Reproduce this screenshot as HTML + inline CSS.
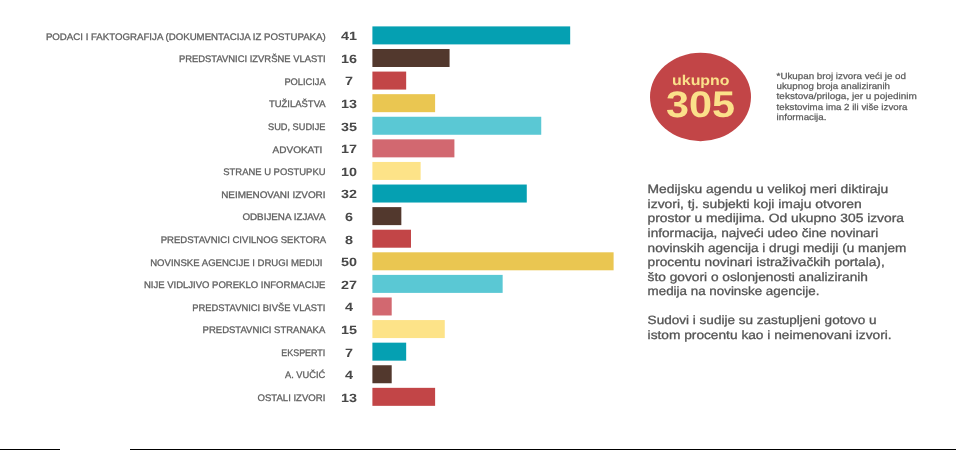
<!DOCTYPE html>
<html><head><meta charset="utf-8"><style>
html,body{margin:0;padding:0;background:#fff;width:956px;height:450px;overflow:hidden}
svg{display:block;filter:blur(0.35px)}
text{font-family:"Liberation Sans",sans-serif;text-rendering:geometricPrecision}
.l{font-size:9.5px;fill:#606060;stroke:#606060;stroke-width:0.3px}
.n{font-size:12.0px;font-weight:bold;fill:#484848}
.s{font-size:8.8px;fill:#5c5c5c;stroke:#5c5c5c;stroke-width:0.25px}
.p{font-size:12px;fill:#555;stroke:#555;stroke-width:0.3px}
</style></head><body>
<svg width="956" height="450" viewBox="0 0 956 450">
<rect x="0" y="0" width="956" height="450" fill="#fff"/>
<rect x="372.40" y="26.40" width="197.78" height="18.0" fill="#05a0b2"/>
<text class="l" x="45.90" y="39.60" textLength="279.80" lengthAdjust="spacingAndGlyphs">PODACI I FAKTOGRAFIJA (DOKUMENTACIJA IZ POSTUPAKA)</text>
<text class="n" x="349.0" y="40.30" text-anchor="middle" textLength="16.01" lengthAdjust="spacingAndGlyphs">41</text>
<rect x="372.40" y="48.99" width="77.18" height="18.0" fill="#52382d"/>
<text class="l" x="178.90" y="62.19" textLength="146.70" lengthAdjust="spacingAndGlyphs">PREDSTAVNICI IZVRŠNE VLASTI</text>
<text class="n" x="349.0" y="62.89" text-anchor="middle" textLength="16.01" lengthAdjust="spacingAndGlyphs">16</text>
<rect x="372.40" y="71.58" width="33.77" height="18.0" fill="#c24547"/>
<text class="l" x="284.40" y="84.78" textLength="41.20" lengthAdjust="spacingAndGlyphs">POLICIJA</text>
<text class="n" x="349.0" y="85.48" text-anchor="middle" textLength="8.01" lengthAdjust="spacingAndGlyphs">7</text>
<rect x="372.40" y="94.17" width="62.71" height="18.0" fill="#eac651"/>
<text class="l" x="268.90" y="107.37" textLength="56.70" lengthAdjust="spacingAndGlyphs">TUŽILAŠTVA</text>
<text class="n" x="349.0" y="108.07" text-anchor="middle" textLength="16.01" lengthAdjust="spacingAndGlyphs">13</text>
<rect x="372.40" y="116.76" width="168.84" height="18.0" fill="#5ac8d4"/>
<text class="l" x="268.00" y="129.96" textLength="57.40" lengthAdjust="spacingAndGlyphs">SUD, SUDIJE</text>
<text class="n" x="349.0" y="130.66" text-anchor="middle" textLength="16.01" lengthAdjust="spacingAndGlyphs">35</text>
<rect x="372.40" y="139.35" width="82.01" height="18.0" fill="#d26870"/>
<text class="l" x="272.60" y="152.55" textLength="49.80" lengthAdjust="spacingAndGlyphs">ADVOKATI</text>
<text class="n" x="349.0" y="153.25" text-anchor="middle" textLength="16.01" lengthAdjust="spacingAndGlyphs">17</text>
<rect x="372.40" y="161.94" width="48.24" height="18.0" fill="#fde388"/>
<text class="l" x="223.30" y="175.14" textLength="102.20" lengthAdjust="spacingAndGlyphs">STRANE U POSTUPKU</text>
<text class="n" x="349.0" y="175.84" text-anchor="middle" textLength="16.01" lengthAdjust="spacingAndGlyphs">10</text>
<rect x="372.40" y="184.53" width="154.37" height="18.0" fill="#05a0b2"/>
<text class="l" x="221.20" y="197.73" textLength="104.30" lengthAdjust="spacingAndGlyphs">NEIMENOVANI IZVORI</text>
<text class="n" x="349.0" y="198.43" text-anchor="middle" textLength="16.01" lengthAdjust="spacingAndGlyphs">32</text>
<rect x="372.40" y="207.12" width="28.94" height="18.0" fill="#52382d"/>
<text class="l" x="242.40" y="220.32" textLength="83.10" lengthAdjust="spacingAndGlyphs">ODBIJENA IZJAVA</text>
<text class="n" x="349.0" y="221.02" text-anchor="middle" textLength="8.01" lengthAdjust="spacingAndGlyphs">6</text>
<rect x="372.40" y="229.71" width="38.59" height="18.0" fill="#c24547"/>
<text class="l" x="160.70" y="242.91" textLength="165.50" lengthAdjust="spacingAndGlyphs">PREDSTAVNICI CIVILNOG SEKTORA</text>
<text class="n" x="349.0" y="243.61" text-anchor="middle" textLength="8.01" lengthAdjust="spacingAndGlyphs">8</text>
<rect x="372.40" y="252.30" width="241.20" height="18.0" fill="#eac651"/>
<text class="l" x="150.20" y="265.50" textLength="172.20" lengthAdjust="spacingAndGlyphs">NOVINSKE AGENCIJE I DRUGI MEDIJI</text>
<text class="n" x="349.0" y="266.20" text-anchor="middle" textLength="16.01" lengthAdjust="spacingAndGlyphs">50</text>
<rect x="372.40" y="274.89" width="130.25" height="18.0" fill="#5ac8d4"/>
<text class="l" x="143.90" y="288.09" textLength="181.40" lengthAdjust="spacingAndGlyphs">NIJE VIDLJIVO POREKLO INFORMACIJE</text>
<text class="n" x="349.0" y="288.79" text-anchor="middle" textLength="16.01" lengthAdjust="spacingAndGlyphs">27</text>
<rect x="372.40" y="297.48" width="19.30" height="18.0" fill="#d26870"/>
<text class="l" x="192.30" y="310.68" textLength="133.00" lengthAdjust="spacingAndGlyphs">PREDSTAVNICI BIVŠE VLASTI</text>
<text class="n" x="349.0" y="311.38" text-anchor="middle" textLength="8.01" lengthAdjust="spacingAndGlyphs">4</text>
<rect x="372.40" y="320.07" width="72.36" height="18.0" fill="#fde388"/>
<text class="l" x="202.60" y="333.27" textLength="122.70" lengthAdjust="spacingAndGlyphs">PREDSTAVNICI STRANAKA</text>
<text class="n" x="349.0" y="333.97" text-anchor="middle" textLength="16.01" lengthAdjust="spacingAndGlyphs">15</text>
<rect x="372.40" y="342.66" width="33.77" height="18.0" fill="#05a0b2"/>
<text class="l" x="281.30" y="355.86" textLength="44.00" lengthAdjust="spacingAndGlyphs">EKSPERTI</text>
<text class="n" x="349.0" y="356.56" text-anchor="middle" textLength="8.01" lengthAdjust="spacingAndGlyphs">7</text>
<rect x="372.40" y="365.25" width="19.30" height="18.0" fill="#52382d"/>
<text class="l" x="285.00" y="378.45" textLength="40.30" lengthAdjust="spacingAndGlyphs">A. VUČIĆ</text>
<text class="n" x="349.0" y="379.15" text-anchor="middle" textLength="8.01" lengthAdjust="spacingAndGlyphs">4</text>
<rect x="372.40" y="387.84" width="62.71" height="18.0" fill="#c24547"/>
<text class="l" x="257.50" y="401.04" textLength="67.80" lengthAdjust="spacingAndGlyphs">OSTALI IZVORI</text>
<text class="n" x="349.0" y="401.74" text-anchor="middle" textLength="16.01" lengthAdjust="spacingAndGlyphs">13</text>
<ellipse cx="700.5" cy="97" rx="50.5" ry="44.2" fill="#c24547"/>
<text x="700.8" y="84.6" text-anchor="middle" textLength="57.5" lengthAdjust="spacingAndGlyphs" style="font-size:14px;font-weight:bold;fill:#fbe08a">ukupno</text>
<text x="700.5" y="116.7" text-anchor="middle" textLength="69" lengthAdjust="spacingAndGlyphs" style="font-size:37px;font-weight:bold;fill:#fbe08a">305</text>
<text class="s" x="776.6" y="78.70" textLength="129.40" lengthAdjust="spacingAndGlyphs">*Ukupan broj izvora veći je od</text>
<text class="s" x="776.6" y="89.06" textLength="113.40" lengthAdjust="spacingAndGlyphs">ukupnog broja analiziranih</text>
<text class="s" x="776.6" y="99.42" textLength="140.20" lengthAdjust="spacingAndGlyphs">tekstova/priloga, jer u pojedinim</text>
<text class="s" x="776.6" y="109.78" textLength="130.70" lengthAdjust="spacingAndGlyphs">tekstovima ima 2 ili više izvora</text>
<text class="s" x="776.6" y="120.14" textLength="49.80" lengthAdjust="spacingAndGlyphs">informacija.</text>
<text class="p" x="647.6" y="193.30" textLength="240.70" lengthAdjust="spacingAndGlyphs">Medijsku agendu u velikoj meri diktiraju</text>
<text class="p" x="647.6" y="207.86" textLength="214.10" lengthAdjust="spacingAndGlyphs">izvori, tj. subjekti koji imaju otvoren</text>
<text class="p" x="647.6" y="222.42" textLength="256.40" lengthAdjust="spacingAndGlyphs">prostor u medijima. Od ukupno 305 izvora</text>
<text class="p" x="647.6" y="236.98" textLength="230.70" lengthAdjust="spacingAndGlyphs">informacija, najveći udeo čine novinari</text>
<text class="p" x="647.6" y="251.54" textLength="258.80" lengthAdjust="spacingAndGlyphs">novinskih agencija i drugi mediji (u manjem</text>
<text class="p" x="647.6" y="266.10" textLength="237.10" lengthAdjust="spacingAndGlyphs">procentu novinari istraživačkih portala),</text>
<text class="p" x="647.6" y="280.66" textLength="220.40" lengthAdjust="spacingAndGlyphs">što govori o oslonjenosti analiziranih</text>
<text class="p" x="647.6" y="295.22" textLength="171.80" lengthAdjust="spacingAndGlyphs">medija na novinske agencije.</text>
<text class="p" x="647.6" y="324.34" textLength="229.00" lengthAdjust="spacingAndGlyphs">Sudovi i sudije su zastupljeni gotovo u</text>
<text class="p" x="647.6" y="338.90" textLength="244.00" lengthAdjust="spacingAndGlyphs">istom procentu kao i neimenovani izvori.</text>
<rect x="0" y="449" width="60" height="1" fill="#000"/>
<rect x="130" y="449" width="826" height="1" fill="#000"/>
</svg>
</body></html>
